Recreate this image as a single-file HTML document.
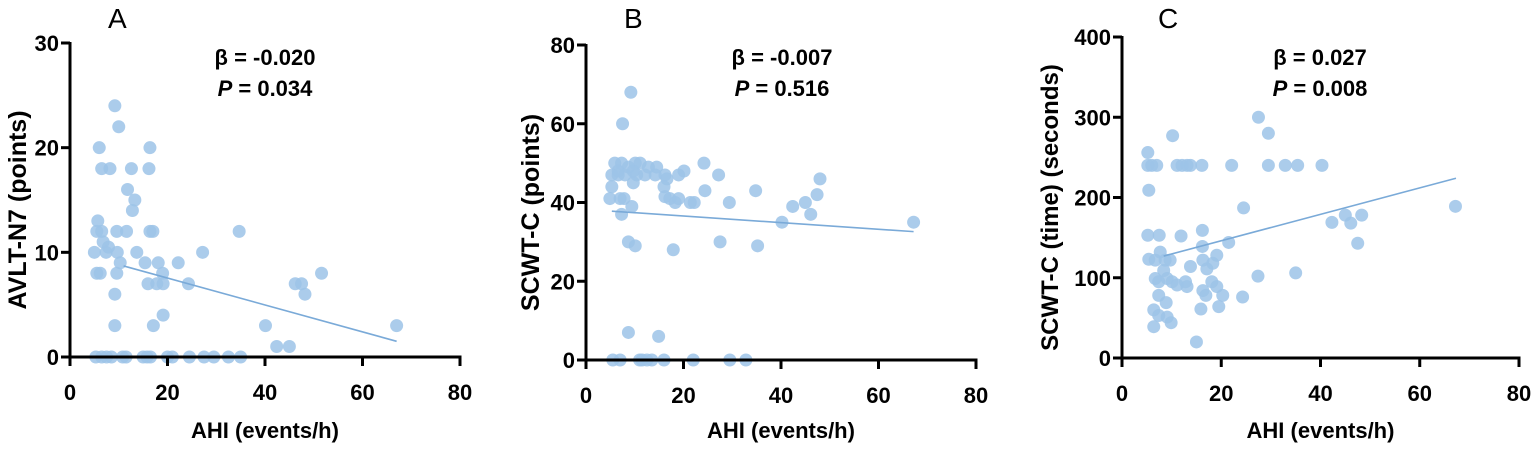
<!DOCTYPE html>
<html><head><meta charset="utf-8"><style>
html,body{margin:0;padding:0;background:#fff;}
svg{display:block;font-family:"Liberation Sans",sans-serif;}
</style></head><body>
<svg id="fig" width="1535" height="451" viewBox="0 0 1535 451"></svg>
<script>
// Panel A data
const aX=[9.2,10,6,16.4,6.5,8.2,12.6,16.2,11.8,13.3,12.8,5.7,5.5,6.5,9.6,11.6,16.4,17,34.7,5,6.8,7.4,7.9,13.7,9.7,27.2,5.5,6.2,9.6,10.3,15.4,18.1,22.2,19,51.6,16,17.8,19.1,24.3,46.2,47.5,48.2,9.2,19.1,9.2,17.1,40.1,67,42.4,45,5.3,6.5,7.5,8.5,10.8,11.5,15,15.8,16.5,20,21,24.5,27.5,29.5,32.5,35];
const aY=[24,22,20,20,18,18,18,18,16,15,14,13,12,12,12,12,12,12,12,10,11,10,10.5,10,10,10,8,8,8,9,9,9,9,8,8,7,7,7,7,7,7,6,6,4,3,3,3,3,1,1,0,0,0,0,0,0,0,0,0,0,0,0,0,0,0,0];
const aFit=[[11,8.7],[67,1.5]];
// Panel B data
const bX=[9.2,7.5,5.9,7.3,8.7,10.1,11.1,12.8,14.5,6.6,8,9.7,5.3,6.6,10.4,12.1,14.2,5.3,4.9,7,7.8,9.7,16.2,16.6,16,19,20.1,24.2,27.2,16.2,17.2,18.3,19,21.4,22.2,24.4,29.4,34.8,9.4,7.3,48,47.4,45,42.4,46.1,40.2,67.2,8.7,10.1,17.9,27.5,35.2,8.7,14.9,5.5,7,11,11.5,12.5,13.5,16,22,29.5,32.8];
const bY=[68,60,50,50,49,50,50,49,49,48,47,48,47,47,47,47,47,44,41,41,41,45,47,46,44,47,48,50,47,41.5,41,40,41,40,40,43,40,43,39,37,46,42,40,39,37,35,35,30,29,28,30,29,7,6,0,0,0,0,0,0,0,0,0,0];
const bFit=[[5.3,37.8],[67.2,32.6]];
// Panel C data
const cX=[27.5,29.5,10.2,5.2,5.2,6,7,11.1,12.1,13.1,13.8,16.1,22.1,29.5,32.9,35.4,40.3,5.4,24.5,67.2,42.3,45,46.1,48.3,47.5,5.2,7.5,11.9,16.2,16.2,21.5,5.4,6.7,7.7,8.7,9.7,8.4,6.7,7.4,9.1,10.1,11.1,12.8,13.1,13.8,16.3,17.1,18.3,19.1,18.1,19.1,27.4,35,7.4,8.9,16.3,16.9,20.3,19.5,15.9,24.3,6.4,7.4,9.1,9.9,6.4,15];
const cY=[300,280,277,256,240,240,240,240,240,240,240,240,240,240,240,240,240,209,187,189,169,178,168,178,143,153,153,152,159,139,144,123,122,132,122,122,109,99,95,99,95,91,95,89,114,122,111,118,128,95,89,102,106,78,69,84,78,78,64,61,76,60,53,51,44,39,20];
const cFit=[[8.4,127],[67.3,224]];

const xTicks=[0,20,40,60,80];
const aTicks=[0,10,20,30], bTicks=[0,20,40,60,80], cTicks=[0,100,200,300,400];

const NS="http://www.w3.org/2000/svg";
const svg=document.getElementById('fig');
function mk(tag,attrs,parent){const e=document.createElementNS(NS,tag);for(const k in attrs)e.setAttribute(k,attrs[k]);(parent||svg).appendChild(e);return e;}

function panel(cfg){
  const g=mk('g',{});
  
  
  const sx=v=>cfg.x0+(v-0)/80*(cfg.x1-cfg.x0);
  const sy=v=>cfg.y0-(v/cfg.ymax)*(cfg.y0-cfg.y1);
  const pg=mk('g',{},g);
  
  
  cfg.xs.forEach((xv,i)=>{
    const c=mk('circle',{cx:sx(xv),cy:sy(cfg.ys[i]),r:6.5,fill:'#9cc3e8','fill-opacity':0.85},pg);
    
    
  });
  const fl=mk('line',{x1:sx(cfg.fit[0][0]),y1:sy(cfg.fit[0][1]),x2:sx(cfg.fit[1][0]),y2:sy(cfg.fit[1][1]),stroke:'#7aaad8','stroke-width':1.6},g);
  
  
  const ya=mk('line',{x1:cfg.x0,y1:cfg.y0+1.5,x2:cfg.x0,y2:cfg.y1-1,stroke:'#000','stroke-width':3},g);
  
  
  const xa=mk('line',{x1:cfg.x0-1.5,y1:cfg.y0,x2:cfg.x1+1.5,y2:cfg.y0,stroke:'#000','stroke-width':3},g);
  
  
  xTicks.forEach(t=>{
    mk('line',{x1:sx(t),y1:cfg.y0,x2:sx(t),y2:cfg.y0+9,stroke:'#000','stroke-width':3},g);
    const tx=mk('text',{x:sx(t),y:cfg.y0+43,'text-anchor':'middle','font-size':22,'font-weight':'bold'},g);
    tx.textContent=t;
    
    
  });
  cfg.yt.forEach(t=>{
    mk('line',{x1:cfg.x0-9,y1:sy(t),x2:cfg.x0,y2:sy(t),stroke:'#000','stroke-width':3},g);
    const tx=mk('text',{x:cfg.x0-11,y:sy(t)+8,'text-anchor':'end','font-size':22,'font-weight':'bold'},g);
    tx.textContent=t;
    
    
  });
  const xt=mk('text',{x:(cfg.x0+cfg.x1)/2,y:438,'text-anchor':'middle','font-size':22,'font-weight':'bold'},g);
  xt.textContent='AHI (events/h)';
  
  
  const yc=(cfg.y0+cfg.y1)/2+10;
  const yt=mk('text',{x:cfg.ytx,y:yc,'text-anchor':'middle','font-size':cfg.yfs,'font-weight':'bold',transform:'rotate(-90 '+cfg.ytx+' '+yc+')'},g);
  yt.textContent=cfg.ytitle;
  
  
  const lt=mk('text',{x:cfg.lx,y:28,'font-size':28},g);
  lt.textContent=cfg.id;
  
  
  const b=mk('text',{x:cfg.ax,y:65,'text-anchor':'middle','font-size':22,'font-weight':'bold'},g);
  b.textContent=cfg.beta;
  
  
  const p=mk('text',{x:cfg.ax,y:96,'text-anchor':'middle','font-size':22,'font-weight':'bold'},g);
  p.innerHTML='<tspan font-style="italic">P</tspan> = '+cfg.p;
  
  
}
panel({id:'A',x0:70,x1:460,y0:357,y1:43,ymax:30,xs:aX,ys:aY,fit:aFit,yt:aTicks,ytitle:'AVLT-N7 (points)',ytx:26,yfs:25,lx:108,ax:265,beta:'β = -0.020',p:'0.034'});
panel({id:'B',x0:586,x1:976,y0:360,y1:45,ymax:80,xs:bX,ys:bY,fit:bFit,yt:bTicks,ytitle:'SCWT-C (points)',ytx:539,yfs:25,lx:624,ax:782,beta:'β = -0.007',p:'0.516'});
panel({id:'C',x0:1122,x1:1519,y0:358,y1:37,ymax:400,xs:cX,ys:cY,fit:cFit,yt:cTicks,ytitle:'SCWT-C (time) (seconds)',ytx:1058,yfs:24,lx:1158,ax:1320,beta:'β = 0.027',p:'0.008'});
</script>
</body></html>
